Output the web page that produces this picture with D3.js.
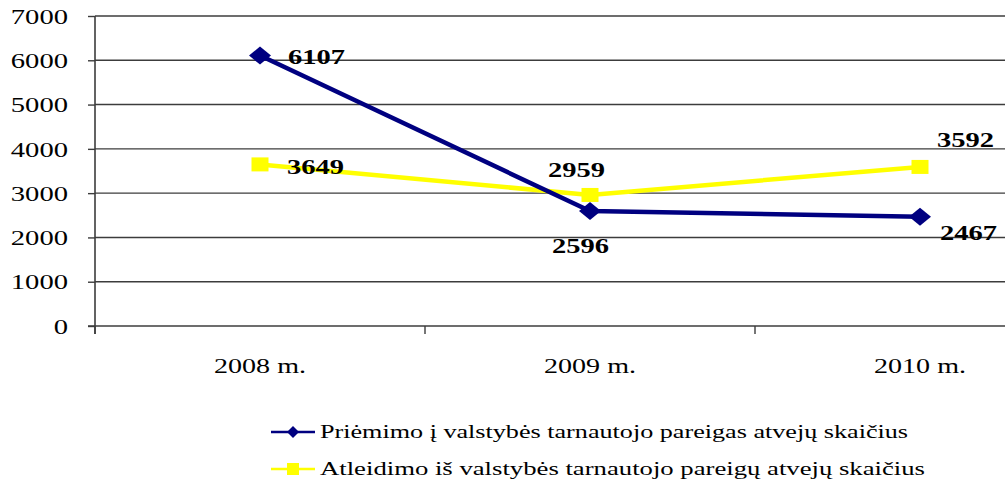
<!DOCTYPE html>
<html>
<head>
<meta charset="utf-8">
<script src="https://cdn.jsdelivr.net/npm/d3@7"></script>
<style>
  html, body { margin: 0; padding: 0; background: #fff; }
  svg { display: block; }
  text { font-family: "Liberation Serif", "Times New Roman", serif; fill: #000; }
</style>
</head>
<body>
<svg id="chart" width="1005" height="484"></svg>
<script>
// ---- data ----
const categories = ["2008 m.", "2009 m.", "2010 m."];
const seriesNames = [
  "Priėmimo į valstybės tarnautojo pareigas atvejų skaičius",
  "Atleidimo iš valstybės tarnautojo pareigų atvejų skaičius"
];
const priemimoValues = [6107, 2596, 2467];
const atleidimoValues = [3649, 2959, 3592];
const yTicks = [0, 1000, 2000, 3000, 4000, 5000, 6000, 7000];

// ---- layout ----
const svg = d3.select("#chart");
const plotLeft = 95, plotTop = 16, plotBottom = 326;
const bandW = 330;
const x = d3.scaleBand().domain(categories).range([plotLeft, plotLeft + bandW * categories.length]).padding(0);
const y = d3.scaleLinear().domain([0, 7000]).range([plotBottom, plotTop]);
const cx = c => x(c) + x.bandwidth() / 2;

// gridlines
svg.append("g").selectAll("line").data(yTicks.filter(d => d > 0)).join("line")
  .attr("x1", plotLeft).attr("x2", 1005)
  .attr("y1", d => y(d)).attr("y2", d => y(d))
  .attr("stroke", "#3c3c3c").attr("stroke-width", 1.4);

// y axis
const yAxis = svg.append("g").attr("transform", `translate(${plotLeft},0)`)
  .call(d3.axisLeft(y).tickValues(yTicks).tickSize(7).tickPadding(20).tickFormat(d3.format("d")));
yAxis.select(".domain").attr("stroke", "#3c3c3c").attr("stroke-width", 1.6)
  .attr("d", `M0,${plotTop}V${plotBottom + 8}`);
yAxis.selectAll(".tick line").attr("stroke", "#3c3c3c").attr("stroke-width", 1.4);
yAxis.selectAll(".tick text")
  .attr("font-size", 20).attr("font-family", "Liberation Serif, serif")
  .attr("dy", "0.36em")
  .attr("textLength", d => String(d).length * 14.3)
  .attr("lengthAdjust", "spacingAndGlyphs");

// x axis
const xAxis = svg.append("g").attr("transform", `translate(0,${plotBottom})`)
  .call(d3.axisBottom(x).tickSize(0).tickPadding(0));
xAxis.select(".domain").attr("stroke", "#3c3c3c").attr("stroke-width", 1.6)
  .attr("d", `M${plotLeft - 7},0H1005`);
xAxis.selectAll(".tick text")
  .attr("font-size", 20).attr("font-family", "Liberation Serif, serif")
  .attr("y", 47).attr("dy", 0)
  .attr("textLength", 92).attr("lengthAdjust", "spacingAndGlyphs");
// category boundary ticks
svg.append("g").selectAll("line").data(categories).join("line")
  .attr("x1", d => x(d)).attr("x2", d => x(d))
  .attr("y1", plotBottom).attr("y2", plotBottom + 8)
  .attr("stroke", "#3c3c3c").attr("stroke-width", 1.4);

// series
const series = [
  { name: seriesNames[0], values: priemimoValues, color: "#000080", marker: "diamond" },
  { name: seriesNames[1], values: atleidimoValues, color: "#FFFF00", marker: "square" }
];
const line = d3.line().x((d, i) => cx(categories[i])).y(d => y(d));

// draw yellow first, blue on top? In reference blue crosses over yellow
const drawOrder = [series[1], series[0]];
drawOrder.forEach(s => {
  svg.append("path").datum(s.values)
    .attr("d", line).attr("fill", "none")
    .attr("stroke", s.color).attr("stroke-width", 4.5).attr("stroke-linejoin", "round");
});
drawOrder.forEach(s => {
  const g = svg.append("g");
  s.values.forEach((v, i) => {
    const px = cx(categories[i]), py = y(v);
    if (s.marker === "diamond") {
      g.append("path").attr("d", `M${px - 11},${py}L${px},${py - 9}L${px + 11},${py}L${px},${py + 9}Z`)
        .attr("fill", s.color);
    } else {
      g.append("rect").attr("x", px - 8.5).attr("y", py - 7).attr("width", 17).attr("height", 14)
        .attr("fill", s.color);
    }
  });
});

// data labels (offset from point, per series / category)
const labelOffsets = [
  [[28, 8], [-38, 42], [20, 23]],
  [[27, 10], [-42, -18], [17, -20]]
];
series.forEach((s, si) => {
  s.values.forEach((v, i) => {
    const [dx, dy] = labelOffsets[si][i];
    svg.append("text")
      .attr("x", cx(categories[i]) + dx).attr("y", y(v) + dy)
      .attr("font-size", 20).attr("font-weight", "bold")
      .attr("textLength", 57).attr("lengthAdjust", "spacingAndGlyphs")
      .text(v);
  });
});

// legend
const legendX = 271, legendY0 = 432, legendGap = 37;
const legendWidths = [588, 605];
series.forEach((s, i) => {
  const ly = legendY0 + i * legendGap;
  const g = svg.append("g");
  g.append("line").attr("x1", legendX).attr("x2", legendX + 44).attr("y1", ly).attr("y2", ly)
    .attr("stroke", s.color).attr("stroke-width", 2.5);
  const mx = legendX + 22;
  if (s.marker === "diamond") {
    g.append("path").attr("d", `M${mx - 6},${ly}L${mx},${ly - 6}L${mx + 6},${ly}L${mx},${ly + 6}Z`).attr("fill", s.color);
  } else {
    g.append("rect").attr("x", mx - 6).attr("y", ly - 6).attr("width", 12).attr("height", 12).attr("fill", s.color);
  }
  g.append("text").attr("x", legendX + 49).attr("y", ly + 6)
    .attr("font-size", 18)
    .attr("textLength", legendWidths[i]).attr("lengthAdjust", "spacingAndGlyphs")
    .text(s.name);
});
</script>
</body>
</html>
